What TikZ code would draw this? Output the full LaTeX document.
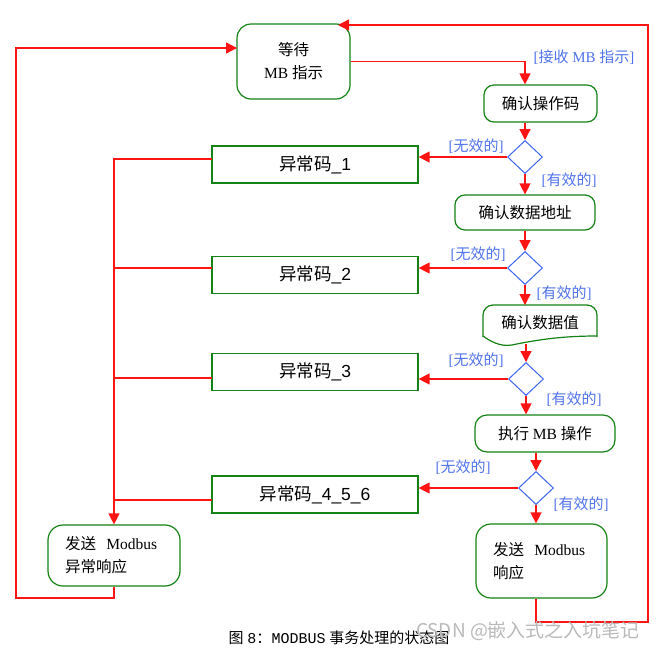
\documentclass[tikz,border=0pt]{standalone}
\usepackage{fontspec}
\setmainfont{Liberation Serif}
\setsansfont{Liberation Sans}
\setmonofont{Liberation Mono}
\newfontfamily\zh{Noto Sans CJK SC}
\usetikzlibrary{arrows.meta,shapes.geometric}
\definecolor{lred}{RGB}{255,20,20}
\definecolor{bgreen}{RGB}{20,130,20}
\definecolor{lblue}{RGB}{80,115,235}
\definecolor{dblue}{RGB}{60,100,240}
\newcommand{\zz}[1]{{\zh #1}}
\begin{document}
\begin{tikzpicture}[x=1pt,y=-1pt,
  state/.style={draw=bgreen, line width=1.2pt, rounded corners=10pt, align=center, font=\fontsize{15.5}{23}\selectfont},
  exc/.style={draw=bgreen, line width=1.2pt, minimum width=206pt, minimum height=37pt, font=\sffamily\fontsize{17.5}{19}\selectfont},
  dec/.style={diamond, draw=dblue, line width=1pt, minimum width=35pt, minimum height=33pt, inner sep=0pt},
  flow/.style={draw=lred, line width=1.3pt, -{Triangle[length=11pt,width=11pt]}},
  bus/.style={draw=lred, line width=1.3pt},
  wave/.style={draw=bgreen, line width=1.2pt},
  lbl/.style={text=lblue, font=\fontsize{15}{17}\selectfont, inner sep=0pt}]
\useasboundingbox (0,0) rectangle (658,651);

% states
\node[state, minimum width=113pt, minimum height=75pt, rounded corners=14pt] (wait) at (293.5,61.5) {\zz{等待}\\ MB \zz{指示}};
\node[state, minimum width=113pt, minimum height=37pt] (op) at (540.5,103.5) {\zz{确认操作码}};
\node[state, minimum width=140pt, minimum height=35pt] (addr) at (525,212.5) {\zz{确认数据地址}};
\node[font=\fontsize{15.5}{23}\selectfont, minimum width=114pt, minimum height=40pt] (val) at (540,323) {\zz{确认数据值}};
\draw[wave, rounded corners=10pt] (483,337) -- (483,305) -- (597,305) -- (597,337);
\draw[wave] (597,336) .. controls (570,336) and (545,338) .. (512,345)
  .. controls (500,347) and (490,341) .. (483,336);
\coordinate (vtop) at (524,305);
\coordinate (vbot) at (524,344);
\node[state, minimum width=140pt, minimum height=37pt, rounded corners=12pt] (exe) at (545,433.5) {\zz{执行} MB \zz{操作}};
\node[state, rounded corners=15pt, minimum height=74pt, text width=97pt, inner xsep=17pt, align=left] (resp) at (541.5,561) {\zz{发送}\ \ Modbus\\\zz{响应}};
\node[state, rounded corners=15pt, minimum height=61pt, text width=98pt, inner xsep=17pt, align=left] (exresp) at (114,555.5) {\zz{发送}\ \ Modbus\\\zz{异常响应}};

% exception boxes
\node[exc] (e1) at (315,164.5) {\zz{异常码}\_1};
\node[exc] (e2) at (315,275) {\zz{异常码}\_2};
\node[exc] (e3) at (315,372) {\zz{异常码}\_3};
\node[exc] (e4) at (315,494.5) {\zz{异常码}\_4\_5\_6};

% decisions
\node[dec] (d1) at (525,157) {};
\node[dec] (d2) at (525,268) {};
\node[dec] (d3) at (526,379) {};
\node[dec] (d4) at (536,488) {};

% flow
\draw[flow] (wait.east) -| (op.north -| d1.north);
\draw[flow] (op.south -| d1.north) -- (d1.north);
\draw[flow] (d1.west) -- (d1.west -| e1.east);
\draw[flow] (d1.south) -- (addr.north -| d1.south);
\draw[flow] (addr.south -| d2.north) -- (d2.north);
\draw[flow] (d2.west) -- (d2.west -| e2.east);
\draw[flow] (d2.south) -- (vtop -| d2.south);
\draw[flow] (vbot -| d3.north) -- (d3.north);
\draw[flow] (d3.west) -- (d3.west -| e3.east);
\draw[flow] (d3.south) -- (exe.north -| d3.south);
\draw[flow] (exe.south -| d4.north) -- (d4.north);
\draw[flow] (d4.west) -- (d4.west -| e4.east);
\draw[flow] (d4.south) -- (resp.north -| d4.south);

% loops
\coordinate (rloop) at (648,622);
\coordinate (wtop) at (338,25);
\draw[flow] (resp.south -| d4.south) |- (rloop) |- (wtop);
\coordinate (lloop) at (16,598);
\coordinate (wleft) at (237,48);
\draw[flow] (exresp.south) |- (lloop) |- (wleft);

% exception bus
\coordinate (b1) at (212,159);
\coordinate (b2) at (212,268);
\coordinate (b3) at (212,378);
\coordinate (b4) at (212,500);
\draw[flow] (b1) -| (exresp.north);
\draw[bus] (b2) -- (b2 -| exresp.north);
\draw[bus] (b3) -- (b3 -| exresp.north);
\draw[bus] (b4) -- (b4 -| exresp.north);

% labels
\node[lbl] (l0) at (584,57) {[\zz{接收} MB \zz{指示}]};
\node[lbl] (n1) at (476,146) {[\zz{无效的}]};
\node[lbl] (n2) at (478,254) {[\zz{无效的}]};
\node[lbl] (n3) at (476,360) {[\zz{无效的}]};
\node[lbl] (n4) at (463,467) {[\zz{无效的}]};
\node[lbl] (y1) at (569,180) {[\zz{有效的}]};
\node[lbl] (y2) at (564,293) {[\zz{有效的}]};
\node[lbl] (y3) at (574,399) {[\zz{有效的}]};
\node[lbl] (y4) at (581,504) {[\zz{有效的}]};

% caption and watermark
\node[font=\fontsize{15}{17}\selectfont, inner sep=0pt] (cap) at (339,638) {\zz{图} {\ttfamily 8}\zz{：}{\ttfamily MODBUS} \zz{事务处理的状态图}};
\node[text=gray!55, font=\zh\fontsize{19}{21}\selectfont, inner sep=0pt] (wm) at (528,631) {CSDN @嵌入式之入坑笔记};
\end{tikzpicture}
\end{document}
